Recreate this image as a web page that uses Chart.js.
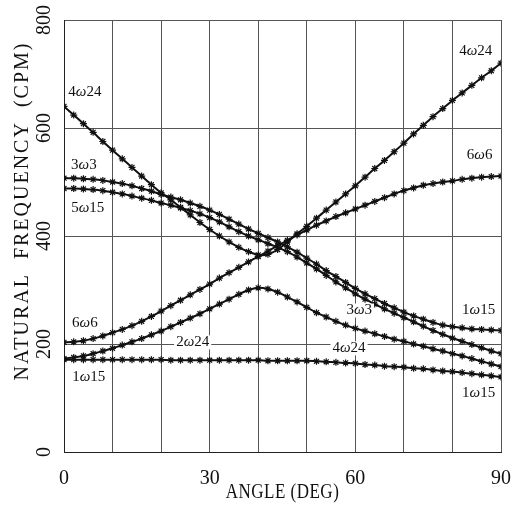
<!DOCTYPE html>
<html>
<head>
<meta charset="utf-8">
<script src="https://cdn.jsdelivr.net/npm/chart.js@4"></script>
<style>
  html, body { margin: 0; padding: 0; background: #fff; }
</style>
</head>
<body>
<canvas id="freqChart" width="526" height="507"></canvas>
<script>
// ====== DATA (every 2 deg) ======
const angles = [0,2,4,6,8,10,12,14,16,18,20,22,24,26,28,30,32,34,36,38,40,42,44,46,48,50,52,54,56,58,60,62,64,66,68,70,72,74,76,78,80,82,84,86,88,90];

// 4w24 : falls from 640, bottoms out near 40 deg, climbs to 720
const mode4w24 = [640,624,608,592,575,559,543,527,511,495,480,467,453,439,425,412,400,389,379,371,365,366,375,389,404,418,433,448,463,478,493,509,525,540,556,572,589,605,621,636,651,665,679,693,706,720];
// 3w3 : upper of the pair near 500
const mode3w3 = [507,507,506,505,503,500,497,493,488,483,477,472,467,461,455,448,440,431,422,413,405,397,389,380,370,359,348,336,325,314,303,293,284,275,267,259,252,246,240,235,232,230,228,227,226,225];
// 5w15 : lower of the pair near 500
const mode5w15 = [488,488,487,486,484,481,478,474,470,466,461,457,452,447,441,434,426,417,408,400,393,386,379,371,361,350,339,327,315,304,293,283,274,265,257,249,241,233,225,218,211,205,199,193,187,182];
// 6w6 : rises from 203 to about 510
const mode6w6 = [203,204,206,210,215,221,227,234,242,251,261,271,281,291,301,311,322,332,342,352,362,372,382,392,402,411,420,428,436,443,450,457,464,471,478,484,489,494,497,500,502,505,507,509,510,511];
// 2w24 : hump with peak near 40 deg
const mode2w24 = [173,175,178,182,187,192,198,204,210,217,224,232,240,248,256,265,274,283,292,300,304,302,296,287,278,268,258,250,242,235,229,224,219,214,209,205,200,196,191,187,182,178,173,168,163,158];
// 1w15 : nearly flat, drops after 50 deg
const mode1w15 = [171,171,171,171,171,171,171,171,171,171,171,170,170,170,170,170,170,170,170,170,170,169,169,169,169,169,168,167,166,165,164,162,161,159,158,157,155,154,152,150,149,147,145,143,141,139];

const yTicks = [0, 200, 400, 600, 800];
const xTickLabels = [0, 30, 60, 90];

// curve labels as printed on the plot (angle, frequency)
const curveLabels = [
  { text: '4ω24', x: 4.3, y: 666 },
  { text: '3ω3', x: 4.1, y: 532 },
  { text: '5ω15', x: 4.9, y: 452 },
  { text: '6ω6', x: 4.3, y: 238 },
  { text: '1ω15', x: 5.1, y: 138 },
  { text: '2ω24', x: 26.5, y: 203 },
  { text: '3ω3', x: 60.8, y: 262 },
  { text: '4ω24', x: 58.7, y: 192 },
  { text: '1ω15', x: 85.4, y: 262 },
  { text: '1ω15', x: 85.4, y: 110 },
  { text: '4ω24', x: 84.8, y: 742 },
  { text: '6ω6', x: 85.6, y: 549 }
];

const SERIF = '"Liberation Serif", "DejaVu Serif", serif';

function toPoints(vals) {
  return vals.map((v, i) => ({ x: angles[i], y: v }));
}

function curve(label, vals) {
  return {
    label: label,
    data: toPoints(vals),
    borderColor: '#111',
    backgroundColor: '#111',
    borderWidth: 2,
    pointStyle: 'star',
    pointRadius: 3.5,
    pointBorderWidth: 1.2,
    tension: 0.3,
    fill: false
  };
}

// ====== LABELS + AXIS TITLES ======
const labelPlugin = {
  id: 'curveLabels',
  afterDatasetsDraw(chart) {
    const ctx = chart.ctx;
    const xs = chart.scales.x, ys = chart.scales.y;
    const upright = '15px ' + SERIF;
    const slant = 'italic 15px ' + SERIF;
    ctx.save();
    ctx.textBaseline = 'middle';
    ctx.textAlign = 'left';
    curveLabels.forEach(l => {
      const parts = l.text.split('ω');
      ctx.font = upright;
      const w1 = ctx.measureText(parts[0]).width;
      const w3 = ctx.measureText(parts[1]).width;
      ctx.font = slant;
      const w2 = ctx.measureText('ω').width;
      const total = w1 + w2 + w3;
      const cx = xs.getPixelForValue(l.x);
      const cy = ys.getPixelForValue(l.y);
      let px = cx - total / 2;
      ctx.fillStyle = '#fff';
      ctx.fillRect(px - 2, cy - 7, total + 4, 14);
      ctx.fillStyle = '#111';
      ctx.font = upright;
      ctx.fillText(parts[0], px, cy);
      ctx.font = slant;
      ctx.fillText('ω', px + w1, cy);
      ctx.font = upright;
      ctx.fillText(parts[1], px + w1 + w2, cy);
    });
    ctx.restore();

    const area = chart.chartArea;
    ctx.save();
    ctx.fillStyle = '#111';
    ctx.textAlign = 'center';
    ctx.textBaseline = 'middle';
    ctx.font = '17px ' + SERIF;
    ctx.letterSpacing = '0.5px';
    ctx.translate((area.left + area.right) / 2, 492);
    ctx.scale(1, 1.25);
    ctx.fillText('ANGLE (DEG)', 0, 0);
    ctx.restore();

    ctx.save();
    ctx.fillStyle = '#111';
    ctx.textAlign = 'center';
    ctx.textBaseline = 'middle';
    ctx.font = '20px ' + SERIF;
    ctx.letterSpacing = '2px';
    ctx.translate(23, 211);
    ctx.rotate(-Math.PI / 2);
    ctx.fillText('NATURAL  FREQUENCY  (CPM)', 0, 0);
    ctx.restore();
  }
};

// ====== CHART ======
new Chart(document.getElementById('freqChart'), {
  type: 'line',
  data: {
    datasets: [
      curve('4ω24', mode4w24),
      curve('3ω3', mode3w3),
      curve('5ω15', mode5w15),
      curve('6ω6', mode6w6),
      curve('2ω24', mode2w24),
      curve('1ω15', mode1w15)
    ]
  },
  options: {
    responsive: false,
    animation: false,
    layout: { padding: { top: 20, right: 24, left: 0, bottom: 0 } },
    plugins: { legend: { display: false }, tooltip: { enabled: false } },
    scales: {
      x: {
        type: 'linear',
        min: 0, max: 90,
        border: { display: true, color: '#222', width: 1 },
        grid: { color: '#555', lineWidth: 1, drawTicks: false },
        ticks: {
          stepSize: 10,
          padding: 15,
          maxRotation: 0,
          autoSkip: false,
          color: '#111',
          font: { family: SERIF, size: 20 },
          callback: v => xTickLabels.includes(v) ? String(v) : ''
        },
        afterFit: s => { s.height = 55; }
      },
      y: {
        min: 0, max: 800,
        border: { display: true, color: '#222', width: 1 },
        grid: { color: '#555', lineWidth: 1, drawTicks: false },
        afterBuildTicks: s => { s.ticks = yTicks.map(v => ({ value: v })); },
        ticks: {
          padding: 4,
          minRotation: 90,
          maxRotation: 90,
          crossAlign: 'center',
          color: '#111',
          font: { family: SERIF, size: 20 }
        },
        afterFit: s => { s.width = 64; }
      }
    }
  },
  plugins: [labelPlugin]
});
</script>
</body>
</html>
